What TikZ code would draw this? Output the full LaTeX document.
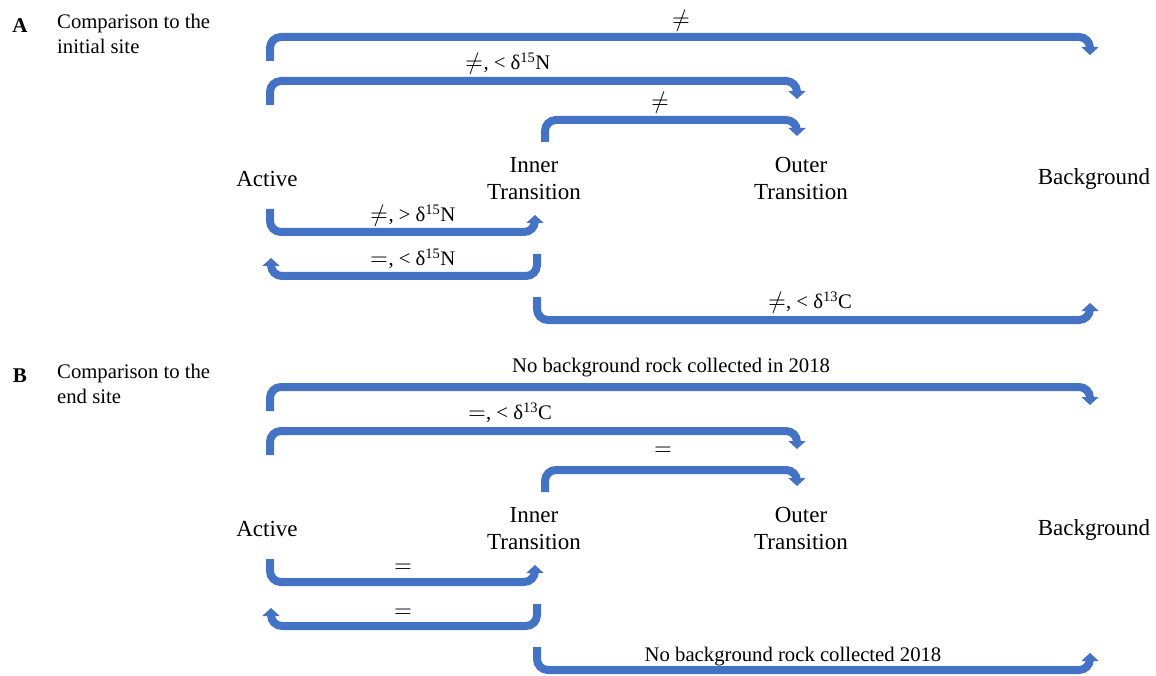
\documentclass[tikz,border=0pt]{standalone}
\usepackage{fontspec}
\setmainfont{Liberation Serif}
\newfontfamily\symfont{latinmodern-math.otf}
\usetikzlibrary{arrows.meta}
\definecolor{arrowblue}{HTML}{4472C4}
\newcommand\symne{{\symfont\fontsize{23}{23}\selectfont ≠}}
\newcommand\symeq{{\symfont\fontsize{23}{23}\selectfont =}}
\tikzset{
  barrow/.style={draw=arrowblue, line width=8pt, rounded corners=11pt,
    -{Triangle[width=17pt,length=8pt]}},
  site/.style={font=\fontsize{23}{27.5}\selectfont, align=center, inner sep=0pt},
  lbl/.style={font=\fontsize{20.7}{24}\selectfont, inner sep=0pt},
  ttl/.style={font=\fontsize{20.7}{24.5}\selectfont, align=left, inner sep=0pt, anchor=west},
  panel/.style={font=\fontsize{21}{24}\selectfont\bfseries, inner sep=0pt},
}
\begin{document}
\begin{tikzpicture}[x=1pt,y=-1pt]
\useasboundingbox (0,0) rectangle (1156,676);
\foreach \dy/\P/\T in {0/A/initial site, 350/B/end site}{
  \begin{scope}[yshift=-\dy pt]
  \node[panel] (pan\P) at (20,26) {\P};
  \node[ttl] (ttl\P) at (57,34) {Comparison to the\\\T};
  \node[site] (act\P) at (267,179) {Active};
  \node[site] (inn\P) at (534,178.5) {Inner\\Transition};
  \node[site] (out\P) at (801,178.5) {Outer\\Transition};
  \node[site] (bkg\P) at (1094,179.5) {Background};
  % connector end points
  \coordinate (s1\P) at (270,61);   \coordinate (e1\P) at (1090,55);
  \coordinate (s2\P) at (270,105);  \coordinate (e2\P) at (797,99);
  \coordinate (s3\P) at (545,142);  \coordinate (e3\P) at (797,136);
  \coordinate (s4\P) at (270,209);  \coordinate (e4\P) at (535,215);
  \coordinate (s5\P) at (537,254);  \coordinate (e5\P) at (271,258);
  \coordinate (s6\P) at (537,297);  \coordinate (e6\P) at (1090,303);
  \draw[barrow] (s1\P) |- (1090,37) -- (e1\P);
  \draw[barrow] (s2\P) |- (797,81) -- (e2\P);
  \draw[barrow] (s3\P) |- (797,120) -- (e3\P);
  \draw[barrow] (s4\P) |- (535,232) -- (e4\P);
  \draw[barrow] (s5\P) |- (271,276) -- (e5\P);
  \draw[barrow] (s6\P) |- (1090,320) -- (e6\P);
  \end{scope}
}
% Panel A labels
\node[lbl] (la1) at (681,21) {\symne};
\node[lbl] (la2) at (508,64) {\symne, < δ\textsuperscript{15}N};
\node[lbl] (la3) at (660,103) {\symne};
\node[lbl] (la4) at (413,216) {\symne, > δ\textsuperscript{15}N};
\node[lbl] (la5) at (413,259) {\symeq, < δ\textsuperscript{15}N};
\node[lbl] (la6) at (810,303) {\symne, < δ\textsuperscript{13}C};
% Panel B labels
\node[lbl] (lb1) at (671,368) {No background rock collected in 2018};
\node[lbl] (lb2) at (510,413) {\symeq, < δ\textsuperscript{13}C};
\node[lbl] (lb3) at (663,451) {\symeq};
\node[lbl] (lb4) at (403,568) {\symeq};
\node[lbl] (lb5) at (403,613) {\symeq};
\node[lbl] (lb6) at (793,657) {No background rock collected 2018};
\end{tikzpicture}
\end{document}
